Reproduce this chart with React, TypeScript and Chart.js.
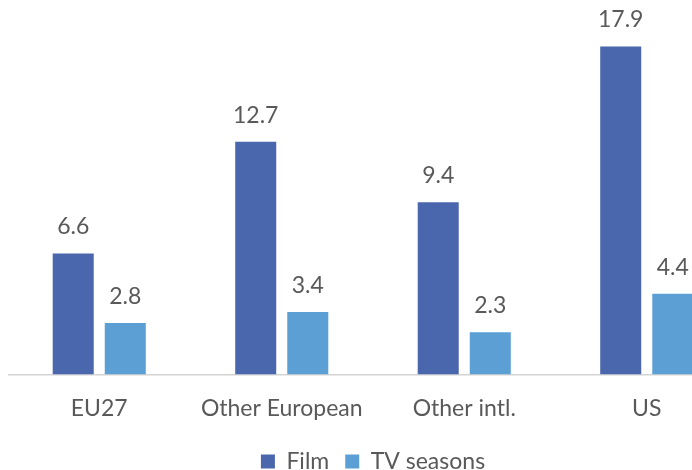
import React, { useEffect, useRef } from "react";
import { Chart, registerables } from "chart.js";

Chart.register(...registerables);

const categories = ["EU27", "Other European", "Other intl.", "US"];
const filmValues = [6.6, 12.7, 9.4, 17.9];
const tvValues = [2.8, 3.4, 2.3, 4.4];
const seriesNames = ["Film", "TV seasons"];

const FONT = "Lato, 'Noto Sans', sans-serif";
const TEXT = "#595959";

const valueLabels = {
  id: "valueLabels",
  afterDatasetsDraw(chart: any) {
    const ctx = chart.ctx;
    ctx.save();
    ctx.font = `23px ${FONT}`;
    ctx.fillStyle = TEXT;
    ctx.textAlign = "center";
    ctx.textBaseline = "alphabetic";
    chart.data.datasets.forEach((ds: any, di: number) => {
      const meta = chart.getDatasetMeta(di);
      meta.data.forEach((bar: any, i: number) => {
        ctx.fillText(String(ds.data[i].toFixed(1)), bar.x, bar.y - 19);
      });
    });
    ctx.restore();
  },
};

export default function App() {
  const ref = useRef<HTMLCanvasElement>(null);
  useEffect(() => {
    document.documentElement.style.overflow = "hidden";
    document.body.style.overflow = "hidden";
    document.body.style.margin = "8px 0 0 8px";
    const chart = new Chart(ref.current!, {
      type: "bar",
      data: {
        labels: categories,
        datasets: [
          {
            label: seriesNames[0],
            data: filmValues,
            backgroundColor: "#4A66AC",
            categoryPercentage: 0.5705,
            barPercentage: 0.788,
          },
          {
            label: seriesNames[1],
            data: tvValues,
            backgroundColor: "#5B9FD5",
            categoryPercentage: 0.5705,
            barPercentage: 0.788,
          },
        ],
      },
      options: {
        responsive: false,
        animation: false,
        layout: { padding: { left: 0, right: 9, top: 0, bottom: 0 } },
        scales: {
          x: {
            grid: { display: false },
            border: { display: true, color: "#D4D4D4", width: 1.5 },
            ticks: {
              color: TEXT,
              font: { family: FONT, size: 23 },
              padding: 12,
              maxRotation: 0,
              autoSkip: false,
            },
          },
          y: { display: false, min: 0, max: 20 },
        },
        plugins: {
          legend: {
            position: "bottom",
            labels: {
              color: TEXT,
              font: { family: FONT, size: 23 },
              boxWidth: 14,
              boxHeight: 14,
              padding: 16,
            },
          },
          tooltip: { enabled: false },
        },
      },
      plugins: [valueLabels],
    });
    return () => chart.destroy();
  }, []);
  return (
    <div style={{ width: 684, height: 462, overflow: "hidden" }}>
      <canvas ref={ref} width={739} height={475} style={{ display: "block" }} />
    </div>
  );
}
